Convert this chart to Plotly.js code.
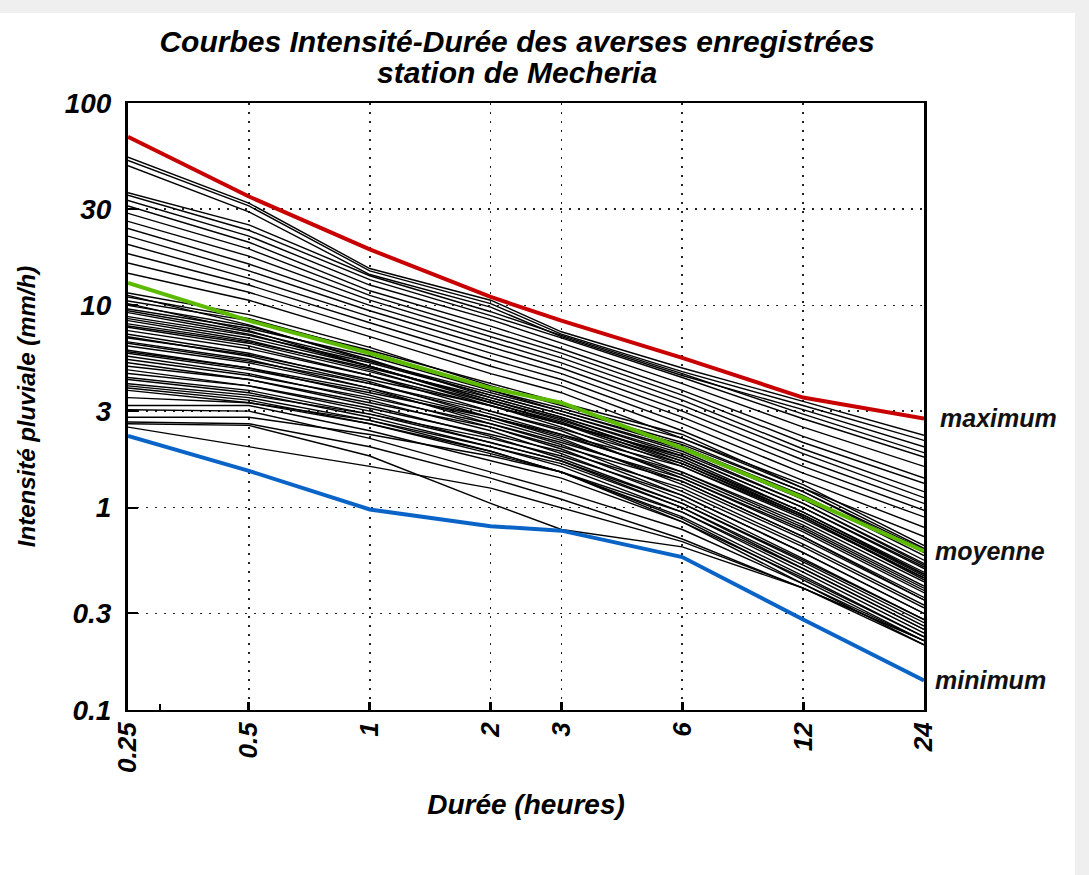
<!DOCTYPE html>
<html><head><meta charset="utf-8">
<script src="https://cdn.plot.ly/plotly-3.0.1.min.js"></script>
<style>
html,body{margin:0;padding:0;background:#efefef;width:1089px;height:875px;overflow:hidden;}
#chart{position:absolute;left:0;top:13px;width:1075px;height:862px;background:#fff;}
</style></head><body><div id="chart"></div>
<script>
// Durations (hours) and tick labels
const durations = [0.25, 0.5, 1, 2, 3, 6, 12, 24];
const durationLabels = ["0.25", "0.5", "1", "2", "3", "6", "12", "24"];
const intensityTicks = [0.1, 0.3, 1, 3, 10, 30, 100];
const intensityTickLabels = ["0.1", "0.3", "1", "3", "10", "30", "100"];
const titleLine1 = "Courbes Intensité-Durée des averses enregistrées";
const titleLine2 = "station de Mecheria";

// Envelope and mean curves (mm/h)
const maximum = [68, 34.5, 18.9, 11.0, 8.4, 5.5, 3.5, 2.76];
const moyenne = [12.9, 8.4, 5.8, 3.9, 3.3, 1.97, 1.12, 0.61];
const minimum = [2.26, 1.52, 0.98, 0.81, 0.77, 0.57, 0.28, 0.14];

// Individual storms (mm/h) at each duration
const upperStorms = [
  [54, 32, 15.2, 10.6, 7.4, 4.9, 3.35, 2.28],
  [52, 31, 14.8, 10.2, 7.2, 4.7, 3.2, 2.15],
  [49, 29, 14.2, 9.8, 7.0, 4.5, 3.05, 2.0],
  [36, 25, 14.0, 9.3, 7.1, 4.6, 2.9, 1.87],
  [35, 23.5, 13.4, 8.9, 6.9, 4.4, 2.75, 1.78],
  [33, 22, 12.6, 8.5, 6.5, 4.1, 2.5, 1.6],
  [31, 20.5, 11.8, 7.9, 6.1, 3.8, 2.25, 1.4],
  [28.5, 19, 11.2, 7.4, 5.8, 3.6, 2.1, 1.32],
  [26, 17.5, 10.6, 7.0, 5.5, 3.4, 1.95, 1.2],
  [24, 16, 10.0, 6.6, 5.2, 3.2, 1.85, 1.12],
  [22, 14.8, 9.4, 6.2, 4.9, 3.0, 1.72, 1.05],
  [20, 13.6, 8.8, 5.8, 4.6, 2.8, 1.6, 0.97],
  [18, 12.6, 8.2, 5.4, 4.3, 2.6, 1.48, 0.9],
  [16.2, 11.6, 7.6, 5.0, 4.0, 2.4, 1.36, 0.8],
  [14.4, 10.6, 7.0, 4.6, 3.7, 2.2, 1.25, 0.72]
];
const middleStorms = [
  [11.5, 9.0, 6.2, 4.0, 3.2, 2.2, 1.3, 0.65],
  [11.0, 8.6, 5.9, 3.8, 3.0, 2.0, 1.15, 0.58],
  [10.5, 8.4, 6.0, 4.1, 3.3, 2.3, 1.25, 0.63],
  [10.0, 7.9, 5.4, 3.5, 2.8, 1.8, 1.0, 0.5],
  [9.6, 7.7, 5.6, 3.8, 3.1, 2.1, 1.2, 0.6],
  [9.2, 7.2, 5.0, 3.3, 2.6, 1.6, 0.9, 0.45],
  [8.8, 7.1, 5.2, 3.6, 2.9, 1.95, 1.1, 0.55],
  [8.4, 6.7, 4.8, 3.2, 2.5, 1.5, 0.82, 0.41],
  [8.1, 6.6, 4.9, 3.5, 2.8, 1.85, 1.05, 0.53],
  [7.8, 6.3, 4.5, 3.0, 2.4, 1.4, 0.76, 0.38],
  [7.5, 6.1, 4.5, 3.2, 2.6, 1.7, 0.95, 0.48],
  [7.2, 5.8, 4.2, 2.8, 2.2, 1.3, 0.7, 0.35],
  [6.9, 5.7, 4.3, 3.2, 2.6, 1.8, 1.0, 0.51],
  [6.6, 5.4, 3.9, 2.6, 2.05, 1.2, 0.64, 0.32],
  [6.3, 5.2, 3.9, 2.8, 2.25, 1.5, 0.85, 0.43],
  [6.0, 4.9, 3.6, 2.5, 1.95, 1.15, 0.6, 0.3],
  [5.8, 4.8, 3.7, 2.8, 2.3, 1.6, 0.88, 0.45],
  [5.6, 4.6, 3.4, 2.4, 1.85, 1.1, 0.56, 0.28],
  [5.4, 4.5, 3.5, 2.6, 2.1, 1.4, 0.78, 0.39],
  [5.2, 4.3, 3.2, 2.25, 1.75, 1.05, 0.54, 0.27],
  [5.0, 4.3, 3.3, 2.5, 2.0, 1.35, 0.72, 0.36],
  [4.8, 4.0, 3.0, 2.1, 1.7, 1.0, 0.5, 0.25],
  [4.6, 4.0, 3.1, 2.3, 1.9, 1.25, 0.66, 0.33],
  [4.4, 3.8, 2.9, 2.1, 1.7, 1.05, 0.55, 0.28],
  [4.3, 3.7, 2.8, 2.0, 1.6, 0.95, 0.48, 0.24],
  [4.1, 3.6, 2.9, 2.2, 1.8, 1.15, 0.6, 0.3],
  [4.0, 3.5, 2.7, 1.9, 1.5, 0.88, 0.44, 0.22],
  [3.9, 3.4, 2.6, 1.85, 1.5, 0.85, 0.42, 0.21],
  [3.8, 3.3, 2.7, 2.0, 1.65, 1.0, 0.52, 0.26],
  [11.2, 8.0, 5.3, 3.6, 2.9, 1.9, 1.05, 0.52],
  [10.2, 7.5, 5.0, 3.4, 2.7, 1.75, 0.95, 0.47],
  [9.4, 7.4, 5.3, 3.7, 3.0, 2.05, 1.2, 0.62],
  [8.6, 6.9, 5.0, 3.4, 2.75, 1.7, 0.92, 0.46],
  [7.9, 6.5, 4.7, 3.3, 2.65, 1.65, 0.9, 0.44],
  [7.0, 5.6, 4.1, 2.9, 2.3, 1.45, 0.8, 0.4],
  [6.5, 5.3, 4.1, 3.0, 2.45, 1.65, 0.92, 0.47],
  [5.9, 4.9, 3.8, 2.7, 2.15, 1.35, 0.72, 0.35]
];
const lowerStorms = [
  [3.5, 3.3, 2.6, 1.9, 1.5, 0.9, 0.46, 0.23],
  [3.2, 3.2, 2.4, 1.7, 1.4, 0.85, 0.45, 0.23],
  [3.05, 3.0, 2.2, 1.5, 1.2, 0.78, 0.42, 0.22],
  [2.8, 2.8, 2.3, 1.8, 1.5, 0.95, 0.5, 0.25],
  [2.65, 2.6, 2.0, 1.4, 1.1, 0.7, 0.4, 0.21],
  [2.5, 2.0, 1.6, 1.25, 1.0, 0.68, 0.4, 0.22],
  [2.6, 2.55, 1.8, 1.05, 0.78, 0.64, 0.4, 0.22]
];

const FONT = "Liberation Sans, Arial, sans-serif";
const f = (size, color) => ({family: FONT, size: size, weight: "bold", style: "italic", color: color || "#000"});

const traces = [];
[upperStorms, middleStorms, lowerStorms].forEach(group => {
  group.forEach(vals => {
    traces.push({x: durations, y: vals, type: "scatter", mode: "lines",
      line: {color: "#000", width: 1.4}, hoverinfo: "skip", showlegend: false});
  });
});
traces.push({x: durations, y: minimum, type: "scatter", mode: "lines", name: "minimum",
  line: {color: "#0a64c8", width: 4}, showlegend: false});
traces.push({x: durations, y: moyenne, type: "scatter", mode: "lines", name: "moyenne",
  line: {color: "#5cbb00", width: 4}, showlegend: false});
traces.push({x: durations, y: maximum, type: "scatter", mode: "lines", name: "maximum",
  line: {color: "#c80000", width: 4}, showlegend: false});

const endLabel = (txt, arr, shift) => ({
  text: txt, xref: "paper", x: 1, yref: "y", y: Math.log10(arr[arr.length - 1]),
  xanchor: "left", yanchor: "middle", xshift: shift, showarrow: false, font: f(25, "#111")
});

const layout = {
  width: 1075, height: 862,
  paper_bgcolor: "#fff", plot_bgcolor: "#fff",
  margin: {l: 128, r: 151, t: 90, b: 165},
  title: {
    text: titleLine1,
    font: f(30), xref: "container", x: 0.481, xanchor: "center",
    yref: "container", y: 0.9675, yanchor: "middle"
  },
  xaxis: {
    type: "log", range: [Math.log10(0.25), Math.log10(24)],
    tickmode: "array", tickvals: durations, ticktext: durationLabels,
    tickangle: -90, tickfont: f(26),
    ticks: "inside", ticklen: 8, tickwidth: 3, tickcolor: "#000",
    minor: {tickmode: "array", tickvals: [0.3], ticks: "inside", ticklen: 6, tickwidth: 2, tickcolor: "#000", showgrid: false},
    showline: true, linecolor: "#000", linewidth: 2, mirror: true,
    showgrid: true, gridcolor: "#222", griddash: "2px,7px", gridwidth: 1.5,
    zeroline: false,
    title: {text: "Durée (heures)", font: f(28), standoff: 22}
  },
  yaxis: {
    type: "log", range: [-1, 2],
    tickmode: "array", tickvals: intensityTicks, ticktext: intensityTickLabels,
    tickfont: f(28), ticklabelstandoff: 8,
    ticks: "inside", ticklen: 10, tickwidth: 2, tickcolor: "#000",
    showline: true, linecolor: "#000", linewidth: 3, mirror: true,
    showgrid: true, gridcolor: "#222", griddash: "2px,7px", gridwidth: 1.5,
    zeroline: false,
    title: {text: "Intensité pluviale (mm/h)", font: f(24), standoff: 23}
  },
  annotations: [
    {text: titleLine2, xref: "paper", x: 0.489, xanchor: "center",
     yref: "paper", y: 1.051, yanchor: "middle", showarrow: false, font: f(30)},
    endLabel("maximum", maximum, 14),
    endLabel("moyenne", moyenne, 9),
    endLabel("minimum", minimum, 9)
  ],
  showlegend: false
};

Plotly.newPlot("chart", traces, layout, {displayModeBar: false, staticPlot: true});
</script>
</body></html>
